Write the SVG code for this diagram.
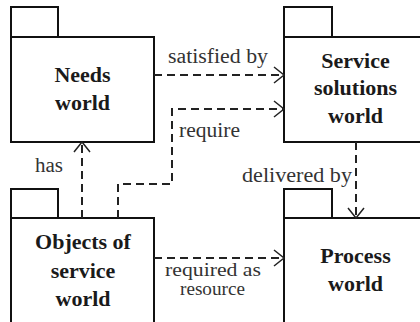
<svg xmlns="http://www.w3.org/2000/svg" width="420" height="322" viewBox="0 0 420 322">
<style>
.box{fill:#fff;stroke:#111;stroke-width:2}
.node{font-weight:bold;font-size:22px;fill:#1a1a1a;text-anchor:middle}
.lbl{font-size:20px;fill:#333}
.sm{font-size:19px}
.conn{fill:none;stroke:#222;stroke-width:2;stroke-dasharray:8,5}
.head{fill:none;stroke:#222;stroke-width:1.5}
</style>
<rect width="420" height="322" fill="#fff"/>
<g font-family="Liberation Serif, DejaVu Serif, serif">
<g id="needs">
<rect class="box" x="11" y="7" width="47" height="30"/>
<rect class="box" x="11" y="37" width="143" height="105"/>
<text class="node" x="82.5" y="82">Needs</text>
<text class="node" x="82.5" y="110">world</text>
</g>
<g id="service">
<rect class="box" x="284" y="7" width="48" height="30"/>
<rect class="box" x="284" y="37" width="143" height="105"/>
<text class="node" x="355.5" y="68">Service</text>
<text class="node" x="355.5" y="95">solutions</text>
<text class="node" x="355.5" y="123">world</text>
</g>
<g id="objects">
<rect class="box" x="11" y="189" width="47" height="29"/>
<rect class="box" x="11" y="218" width="143" height="120"/>
<text class="node" x="83" y="249">Objects of</text>
<text class="node" x="83" y="278">service</text>
<text class="node" x="83" y="306">world</text>
</g>
<g id="process">
<rect class="box" x="284" y="189" width="48" height="29"/>
<rect class="box" x="284" y="218" width="143" height="120"/>
<text class="node" x="355.5" y="263">Process</text>
<text class="node" x="355.5" y="291">world</text>
</g>
<g id="connectors">
<path class="conn" d="M154,75 H283"/>
<path class="head" d="M274,67 L284,75 L274,83"/>
<path class="conn" d="M118,218 V184 H172 V109 H283"/>
<path class="head" d="M274,101 L284,109 L274,117"/>
<path class="conn" d="M82,218 V143"/>
<path class="head" d="M74,152 L82,142 L90,152"/>
<path class="conn" d="M356,142 V217"/>
<path class="head" d="M348,208 L356,218 L364,208"/>
<path class="conn" d="M154,258 H283"/>
<path class="head" d="M274,250 L284,258 L274,266"/>
</g>
<g id="labels">
<text class="lbl" x="168" y="63" textLength="100" lengthAdjust="spacingAndGlyphs">satisfied by</text>
<text class="lbl" x="179" y="137" textLength="61" lengthAdjust="spacingAndGlyphs">require</text>
<text class="lbl" x="35" y="172" textLength="28" lengthAdjust="spacingAndGlyphs">has</text>
<text class="lbl" x="242" y="182" textLength="110" lengthAdjust="spacingAndGlyphs">delivered by</text>
<text class="lbl sm" x="165" y="276" textLength="96" lengthAdjust="spacingAndGlyphs">required as</text>
<text class="lbl sm" x="180" y="295" textLength="65" lengthAdjust="spacingAndGlyphs">resource</text>
</g>
</g>
</svg>
